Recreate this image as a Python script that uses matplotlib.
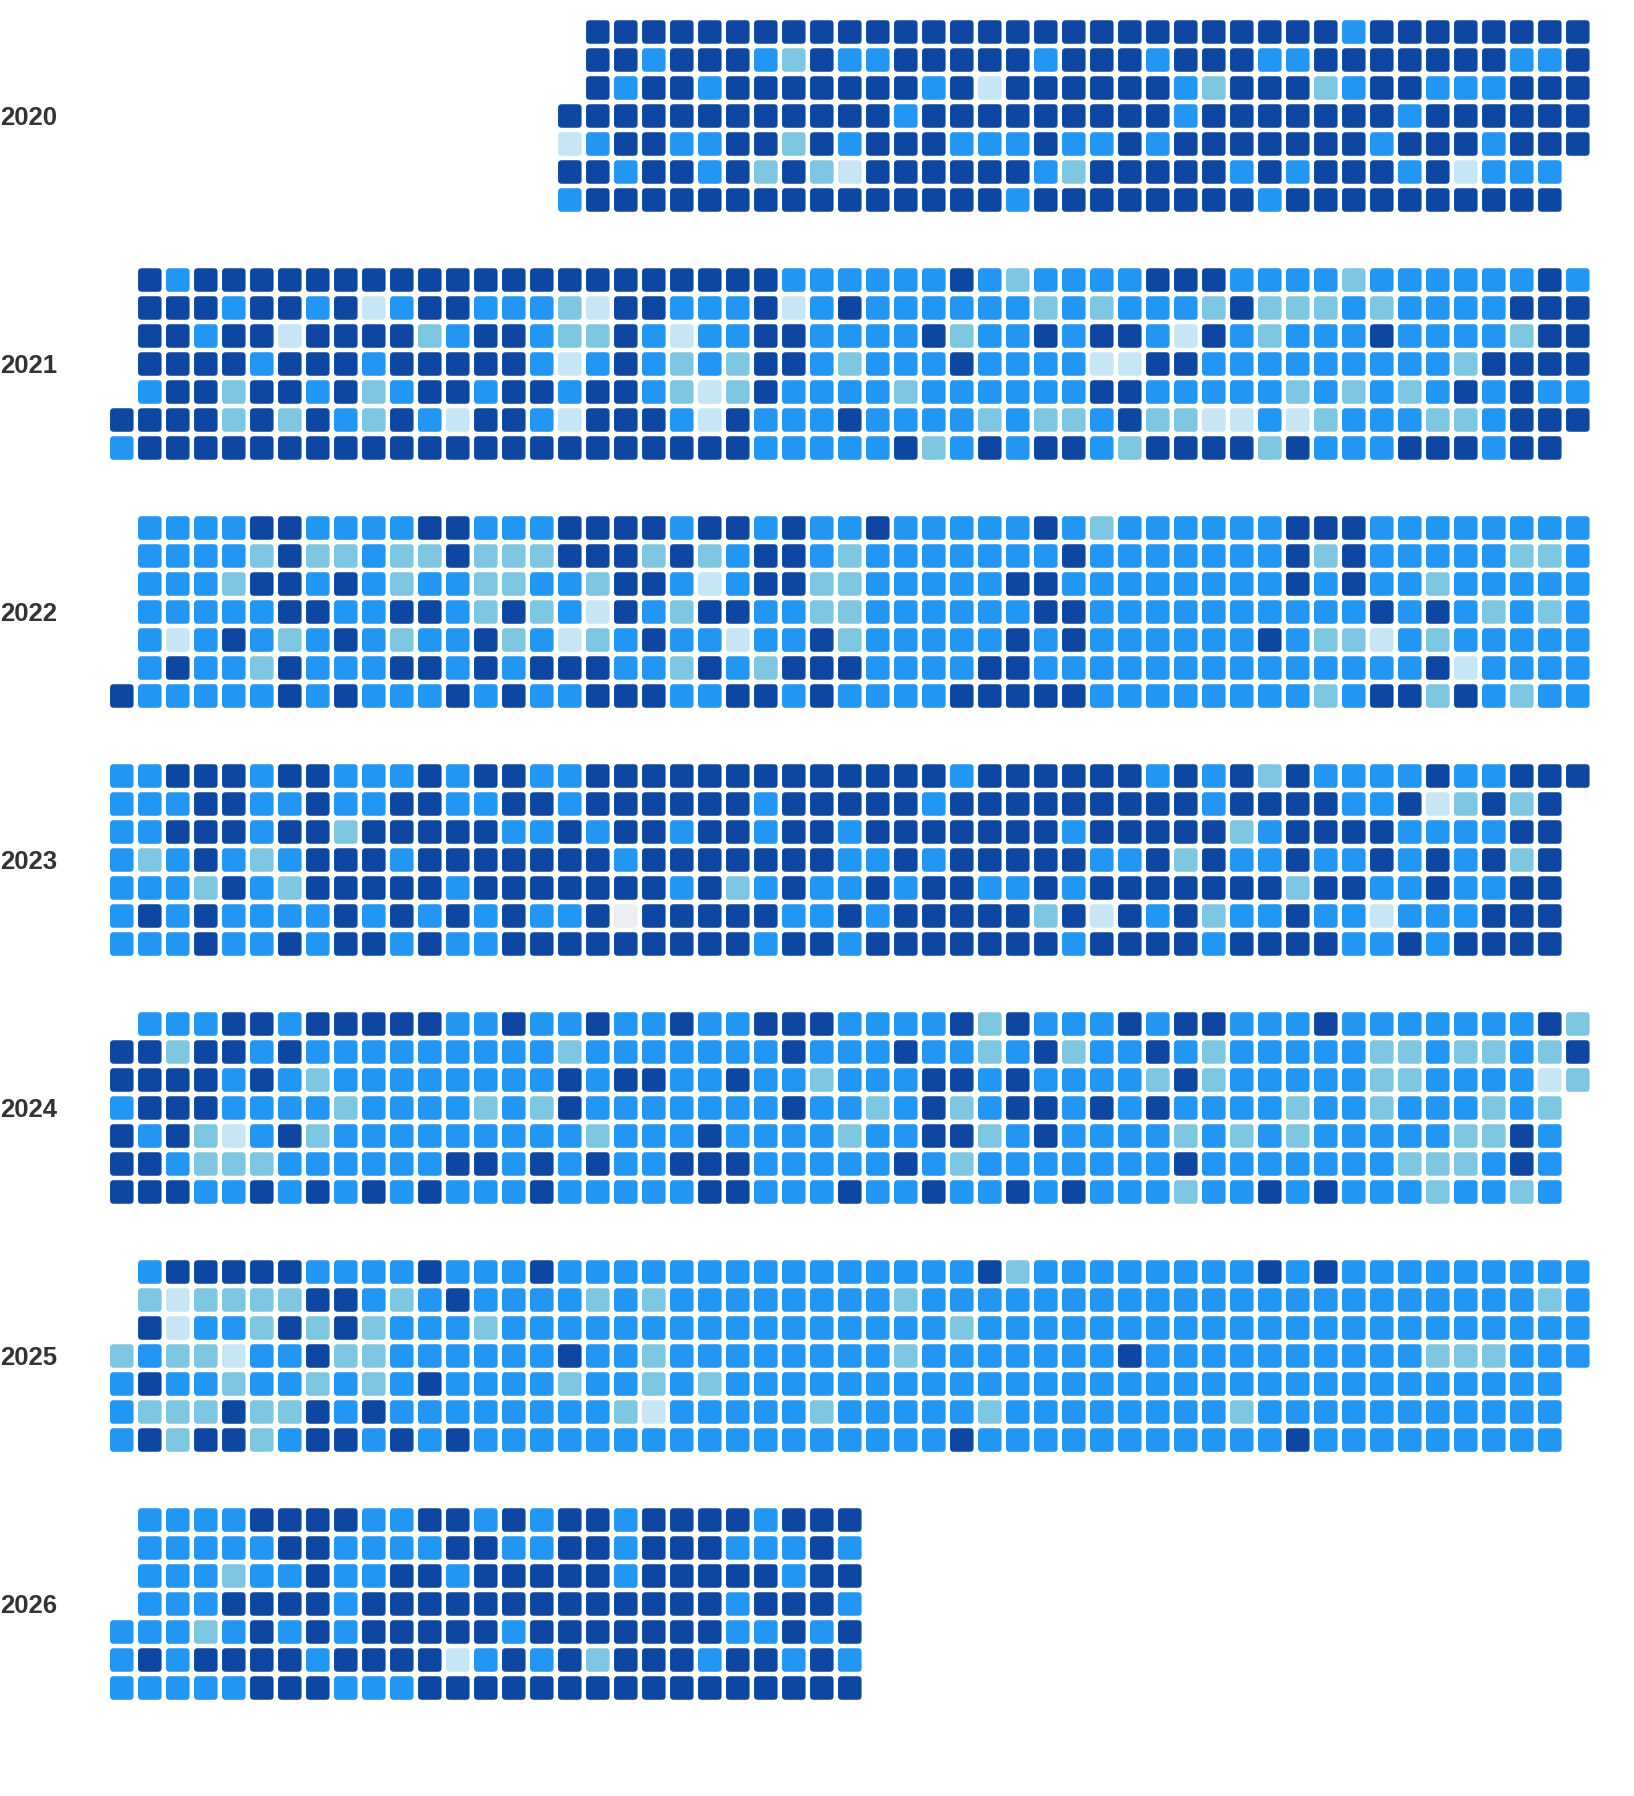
import matplotlib
matplotlib.use("Agg")
import matplotlib.pyplot as plt
from matplotlib.colors import ListedColormap, BoundaryNorm
from matplotlib.collections import PatchCollection
from matplotlib.patches import FancyBboxPatch
from matplotlib.transforms import blended_transform_factory
from datetime import date, timedelta

# niveles: 0 sin dato, 1 muy bajo, 2 bajo, 3 medio, 4 alto
# una cadena por dia de la semana (domingo..sabado), en orden de semanas
START = date(2020, 4, 22)
END = date(2026, 7, 4)

levels_2020 = [
    "4444444444" "4444444444" "4444444344" "444444",
    "4434443243" "3444443444" "3444334444" "444334",
    "4344344444" "4434144444" "4324442344" "333444",
    "4444444444" "4434444444" "4434444444" "3444444",
    "1344334424" "3444333433" "4344444443" "4443444",
    "4434434242" "1444444324" "4444343444" "341333",
    "3444444444" "4444443444" "4444434444" "444444",
]
levels_2021 = [
    "4344444444" "4444444444" "444333" "3334323333" "4443333233" "333343",
    "4443443413" "4433321443" "334134" "3333332323" "3324222323" "333444",
    "4434414444" "2344322431" "334433" "3342334344" "3143233343" "333244",
    "4444344434" "4444313432" "324432" "3334333311" "4433333333" "324444",
    "3442443423" "4434434432" "124333" "3233333344" "3333323232" "343433",
    "4444242432" "4314431444" "3143334" "3333232234" "2211312333" "223444",
    "3444444444" "4444444444" "4443333342" "3434432444" "4243334443" "44",
]
levels_2022 = [
    "3333443333" "4433344443" "443433" "4333334323" "3333344433" "333333",
    "3333242232" "2422244424" "234432" "3333333433" "3333342433" "333223",
    "3332443432" "3322332443" "134422" "3333344333" "3333343433" "233333",
    "3333344334" "4324231432" "443322" "3333334433" "3333333343" "432323",
    "3134323432" "3342312343" "313342" "3333343433" "3333432213" "233333",
    "3433243334" "4343444332" "432444" "3333443333" "3333333333" "413333",
    "4333334343" "3343433444" "3344343" "3334444433" "3333332344" "243233",
]
levels_2023 = [
    "3344434433" "3434433444" "4444444444" "3444444343" "4243333433" "444",
    "3334433433" "4433443444" "4443444" "4434444444" "4434444334" "12424",
    "3344434424" "4444334344" "3443443" "4444444344" "4442344443" "33344",
    "3234323444" "3444444434" "4444443" "3434444433" "4243343343" "43424",
    "3332432444" "4434444444" "3423433" "4344334344" "4444424433" "43344",
    "3434333343" "4343433404" "4444334" "3444442414" "3423343313" "33444",
    "3334334344" "3433444444" "4443443" "4444444344" "4434444334" "34444",
]
levels_2024 = [
    "3334434444" "4334334334" "334443" "3334243334" "3443334333" "333342",
    "4424434333" "3333332333" "3333433" "3433234233" "4323333322" "322324",
    "4444343233" "3333334344" "3343323" "3344343333" "2423333322" "333312",
    "3444333323" "3332324333" "3333433" "2342344343" "4333323323" "33232",
    "4342134233" "3333333233" "3433332" "3344234333" "3232323333" "32243",
    "4432223333" "3344343433" "4443333" "3432333333" "3433333332" "22343",
    "4443343434" "3433343333" "3443334" "3343343433" "3233434333" "23323",
]
levels_2025 = [
    "3444443333" "4333433333" "333333" "3333423333" "3333434333" "333333",
    "2122224432" "3433332323" "333333" "3233333333" "3333333333" "333323",
    "4133242423" "3323333333" "333333" "3332333333" "3333333333" "333333",
    "2322133422" "3333334332" "3333333" "3233333334" "3333333333" "222333",
    "3433233232" "3433332332" "3233333" "3333333333" "3333333333" "33333",
    "3222422434" "3333333321" "3333323" "3333233333" "3332333333" "33333",
    "3424423443" "4343333333" "3333333" "3334333333" "3333343333" "33333",
]
levels_2026 = [
    "3333444433" "4434344344" "443444",
    "3333344333" "3443344344" "433343",
    "3332334334" "4344444344" "444344",
    "3334444344" "4444444444" "434443",
    "3332343434" "4444344444" "4433434",
    "3434444344" "4413434244" "4344343",
    "3333344433" "3444444444" "4444444",
]

LEVELS = {2020: levels_2020, 2021: levels_2021, 2022: levels_2022,
          2023: levels_2023, 2024: levels_2024, 2025: levels_2025,
          2026: levels_2026}
years = list(LEVELS.keys())

colors = ["#ebedf0", "#c6e6f5", "#7cc6e2", "#2196f3", "#0d47a1"]
cmap = ListedColormap(colors)
norm = BoundaryNorm([-0.5, 0.5, 1.5, 2.5, 3.5, 4.5], cmap.N)

# recorrer los dias y ubicarlos en semana / dia de la semana
cells = {y: [] for y in years}
counters = {y: [0] * 7 for y in years}
d = START
while d <= END:
    y = d.year
    dow = (d.weekday() + 1) % 7
    jan1 = date(y, 1, 1)
    offset = (jan1.weekday() + 1) % 7
    week = ((d - jan1).days + offset) // 7
    row = LEVELS[y][dow]
    i = counters[y][dow]
    if i < len(row):
        cells[y].append((week, dow, int(row[i])))
    counters[y][dow] += 1
    d += timedelta(days=1)

W, H = 1634, 1796
fig = plt.figure(figsize=(W / 100, H / 100), dpi=100)

pitch = 28.0
left = 107.8
top0 = 18.0
year_step = 248.0
size = 0.84

for n, y in enumerate(years):
    top = top0 + n * year_step
    ax = fig.add_axes([left / W, 1 - (top + 7 * pitch) / H, 53 * pitch / W, 7 * pitch / H])
    ax.set_xlim(-0.5, 52.5)
    ax.set_ylim(6.5, -0.5)
    ax.axis("off")

    patches = []
    vals = []
    for week, dow, v in cells[y]:
        patches.append(FancyBboxPatch((week - size / 2, dow - size / 2), size, size,
                                      boxstyle="round,pad=0,rounding_size=0.13"))
        vals.append(v)
    pc = PatchCollection(patches, cmap=cmap, norm=norm, edgecolor="none", linewidth=0)
    pc.set_array(vals)
    ax.add_collection(pc)

    # etiqueta del anio, centrada en la fila del miercoles
    tr = blended_transform_factory(fig.transFigure, ax.transData)
    ax.text(0.5 / W, 3.33, str(y), transform=tr, ha="left", va="baseline",
            fontsize=18.5, fontweight="bold", color="#333333",
            family=["Liberation Sans", "DejaVu Sans"])

fig.savefig("out.png", dpi=100)
